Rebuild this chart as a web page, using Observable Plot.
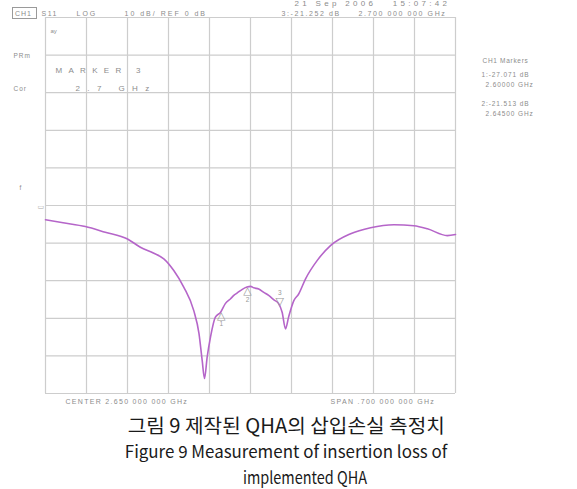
<!DOCTYPE html>
<html>
<head>
<meta charset="utf-8">
<script src="https://cdn.jsdelivr.net/npm/d3@7"></script>
<script src="https://cdn.jsdelivr.net/npm/@observablehq/plot@0.6"></script>
<style>
  html, body { margin: 0; padding: 0; background: #fff; }
  #wrap { position: relative; width: 577px; height: 489px; overflow: hidden; }
  #chart { position: absolute; left: 0; top: 0; }
  .cap { position: absolute; left: 0; width: 577px; text-align: center; color: #1a1a1a;
         font-family: "Noto Sans CJK KR", "Noto Sans", sans-serif; white-space: nowrap; font-weight: 400; }
  .cap span { display: inline-block; transform-origin: center; }
</style>
</head>
<body>
<div id="wrap">
  <div id="chart"></div>
  <div class="cap" id="cap1" style="top:410px;font-size:19.5px;"><span style="transform:scaleX(1.035);margin-left:-5px">그림 9 제작된 QHA의 삽입손실 측정치</span></div>
  <div class="cap" id="cap2" style="top:438px;font-size:17px;"><span style="transform:scaleX(0.995);margin-left:-4px">Figure 9 Measurement of insertion loss of</span></div>
  <div class="cap" id="cap3" style="top:464px;font-size:17px;"><span style="transform:scaleX(0.85);margin-left:32px">implemented QHA</span></div>
</div>
<script>
// ---- data ----
const centerGHz = 2.65;
const spanGHz = 0.70;
const refDb = 0;
const dbPerDiv = 10;

const freqGHz = [2.300, 2.330, 2.368, 2.402, 2.440, 2.462, 2.485, 2.502, 2.519, 2.536,
  2.553, 2.562, 2.5675, 2.5715, 2.576, 2.5817, 2.590, 2.599, 2.607, 2.616,
  2.6215, 2.627, 2.636, 2.644, 2.650, 2.6556, 2.664, 2.6727, 2.681, 2.690,
  2.698, 2.704, 2.7098, 2.715, 2.724, 2.732, 2.744, 2.764, 2.787, 2.821,
  2.855, 2.895, 2.929, 2.952, 2.986, 3.000];
const s11Db = [-3.8, -4.6, -5.6, -7.1, -8.9, -11.1, -12.7, -14.2, -17.3, -21.7,
  -27.9, -34.0, -41.2, -46.0, -40.3, -35.0, -29.7, -28.4, -26.1, -24.8,
  -23.9, -23.3, -22.3, -21.7, -21.5, -21.9, -22.2, -23.1, -23.9, -25.1,
  -26.1, -28.4, -32.8, -29.7, -25.3, -23.6, -19.5, -14.6, -10.6, -7.5,
  -5.9, -5.1, -5.4, -6.2, -8.0, -7.7];

const markerIds = ["1", "2", "3"];
const markerGHz = [2.600, 2.645, 2.700];

const headerTexts = ["CH1", "S11", "LOG", "10 dB/ REF 0 dB"];
const dateText = "21 Sep 2006   15:07:42";
const activeMarkerText = "3:-21.252 dB     2.700 000 000 GHz";
const markerBoxTexts = ["CH1 Markers", "1:-27.071 dB", "2.60000 GHz", "2:-21.513 dB", "2.64500 GHz"];
const sideTexts = ["PRm", "Cor", "f"];
const markerTitle = "MARKER 3";
const markerFreqText = "2.7 GHz";
const footerTexts = ["CENTER 2.650 000 000 GHz", "SPAN .700 000 000 GHz"];

// ---- derived ----
const startGHz = centerGHz - spanGHz / 2;
const stopGHz = centerGHz + spanGHz / 2;
const xGrid = d3.range(0, 11).map(i => startGHz + i * spanGHz / 10);
const yGrid = d3.range(-5, 6).map(i => refDb + i * dbPerDiv);
const trace = freqGHz.map((f, i) => ({f, db: s11Db[i]}));
const interp = f => {
  const i = d3.bisectLeft(freqGHz, f);
  if (i <= 0) return s11Db[0];
  const f0 = freqGHz[i - 1], f1 = freqGHz[i];
  const t = (f - f0) / (f1 - f0);
  return s11Db[i - 1] + t * (s11Db[i] - s11Db[i - 1]);
};
const markers = markerIds.map((id, i) => ({id, f: markerGHz[i], db: interp(markerGHz[i])}));
const lowMarkers = markers.filter(m => m.id !== "3");
const highMarkers = markers.filter(m => m.id === "3");

const W = 577, H = 408, ML = 45, MR = 122, MT = 17, MB = 15;
const TXT = "#8c8c8c";
const FONT = "Liberation Sans, Arial, sans-serif";
const spacing = new Map();

// annotation helper: x,y are page positions of the label
function note(txt, x, y, ls, o = {}) {
  if (ls) spacing.set(txt, ls);
  return Plot.text([txt], {
    frameAnchor: "top-left", dx: x - ML, dy: y - MT, text: d => d,
    textAnchor: "start", lineAnchor: "middle", fill: TXT, fontSize: 7,
    fontFamily: FONT, ...o
  });
}

const chart = Plot.plot({
  width: W, height: H,
  marginLeft: ML, marginRight: MR, marginTop: MT, marginBottom: MB,
  x: {domain: [startGHz, stopGHz], axis: null},
  y: {domain: [refDb - 5 * dbPerDiv, refDb + 5 * dbPerDiv], axis: null},
  style: {background: "#fff", overflow: "visible"},
  marks: [
    Plot.ruleX(xGrid, {stroke: "#cdcdcd", strokeWidth: 1.2}),
    Plot.ruleY(yGrid, {stroke: "#cdcdcd", strokeWidth: 1.2}),
    Plot.line(trace, {x: "f", y: "db", stroke: "#b565c9", strokeWidth: 1.6, curve: "monotone-x"}),
    // markers
    Plot.text(lowMarkers, {x: "f", y: "db", text: () => "△", dy: 4, fill: "#999", fontSize: 11, fontFamily: "DejaVu Sans"}),
    Plot.text(lowMarkers, {x: "f", y: "db", text: "id", dy: 13, fill: "#999", fontSize: 6.5, fontFamily: FONT}),
    Plot.text(highMarkers, {x: "f", y: "db", text: () => "▽", dy: -5, fill: "#999", fontSize: 11, fontFamily: "DejaVu Sans"}),
    Plot.text(highMarkers, {x: "f", y: "db", text: "id", dy: -14, fill: "#999", fontSize: 6.5, fontFamily: FONT}),
    // header
    note(headerTexts[0], 14.5, 13, "1px"),
    note(headerTexts[1], 41, 13, "1.5px"),
    note(headerTexts[2], 76, 13, "2px"),
    note(headerTexts[3], 124, 13, "2px"),
    note(dateText, 294, 3, "3.3px", {fontSize: 8}),
    note(activeMarkerText, 281, 13, "1.6px"),
    // side
    note(sideTexts[0], 13, 55, "1px", {fontSize: 6.5}),
    note(sideTexts[1], 13, 88, "1px", {fontSize: 6.5}),
    note(sideTexts[2], 19, 187, null, {fontSize: 6.5}),
    note("▭", 37, 206, null, {fontSize: 7, fill: "#aaa", fontFamily: "DejaVu Sans"}),
    note("ay", 50, 31, null, {fontSize: 6}),
    // marker annotation inside grid
    note(markerTitle, 55, 70, "6.3px", {fontSize: 8}),
    note(markerFreqText, 75, 88, "7.4px", {fontSize: 8}),
    // right marker box
    note(markerBoxTexts[0], 482, 60, "0.7px", {fontSize: 6.5}),
    note(markerBoxTexts[1], 481, 74, "0.9px", {fontSize: 6.5}),
    note(markerBoxTexts[2], 485, 84, "0.9px", {fontSize: 6.5}),
    note(markerBoxTexts[3], 481, 103, "0.9px", {fontSize: 6.5}),
    note(markerBoxTexts[4], 485, 113, "0.9px", {fontSize: 6.5}),
    // footer
    note(footerTexts[0], 65, 401, "1.3px"),
    note(footerTexts[1], 330, 401, "1.3px")
  ]
});
document.getElementById("chart").appendChild(chart);
d3.select(chart).selectAll("text").each(function () {
  const ls = spacing.get(this.textContent);
  if (ls) this.setAttribute("letter-spacing", ls);
});
// box around CH1
d3.select(chart).append("rect")
  .attr("x", 12.5).attr("y", 7.5).attr("width", 24).attr("height", 11)
  .attr("fill", "none").attr("stroke", "#9a9a9a").attr("stroke-width", 1);
</script>
</body>
</html>
